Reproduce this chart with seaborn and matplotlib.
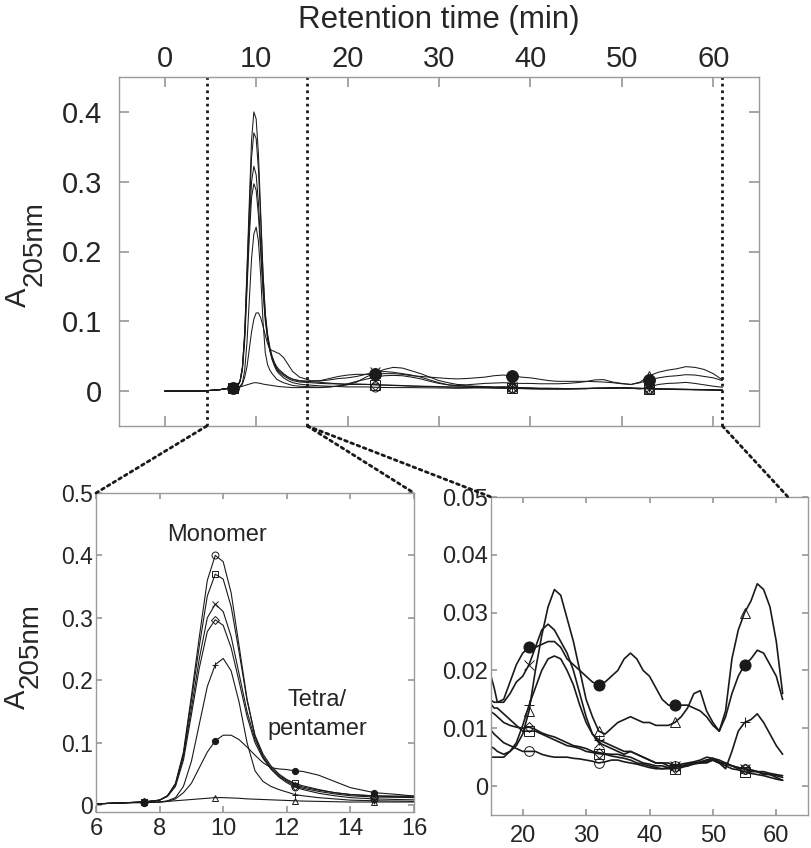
import numpy as np
import pandas as pd
import matplotlib
matplotlib.use('Agg')
import matplotlib.pyplot as plt
import seaborn as sns
from matplotlib.patches import ConnectionPatch

# retention time grid (min): dense around the monomer peak, 1 min steps afterwards
time_min = [0, 2, 4, 6, 6.5, 7, 7.5, 8, 8.25, 8.5, 8.75, 9, 9.25, 9.5, 9.75, 10,
            10.25, 10.5, 10.75, 11, 11.25, 11.5, 11.75, 12, 12.25, 12.5, 13, 13.5, 14, 14.75, 15.5,
            16, 17, 18, 19, 20, 21, 22, 23, 24, 25, 26, 27, 28, 29, 30, 31, 32, 33, 34, 35,
            36, 37, 38, 39, 40, 41, 42, 43, 44, 45, 46, 47, 48, 49, 50, 51, 52, 53, 54, 55,
            56, 57, 58, 59, 60, 61]

# A205nm (early part = monomer window, late part = 16-61 min)
circle_open = [0, 0, 0, 0.002, 0.003, 0.004, 0.005, 0.008, 0.015, 0.035, 0.085, 0.175, 0.27, 0.36, 0.40, 0.39,
               0.34, 0.255, 0.17, 0.11, 0.078, 0.058, 0.045, 0.036, 0.029, 0.025, 0.019, 0.015, 0.012, 0.01, 0.009,
               0.0085, 0.0075, 0.007, 0.0065, 0.006, 0.006, 0.006, 0.0055, 0.0052, 0.005,
               0.005, 0.005, 0.0048, 0.0047, 0.0045, 0.0043, 0.004, 0.0042, 0.0045, 0.0045,
               0.0042, 0.004, 0.0038, 0.0035, 0.0032, 0.003, 0.003, 0.0032, 0.0035, 0.0038,
               0.004, 0.0042, 0.0045, 0.005, 0.0048, 0.0045, 0.004, 0.0035, 0.0032, 0.003,
               0.0028, 0.0025, 0.0022, 0.002, 0.0018, 0.0015]
square_open = [0, 0, 0, 0.002, 0.003, 0.004, 0.005, 0.008, 0.015, 0.034, 0.082, 0.168, 0.255, 0.335, 0.37, 0.362,
               0.318, 0.245, 0.168, 0.112, 0.082, 0.063, 0.05, 0.041, 0.035, 0.031, 0.025, 0.02, 0.017, 0.0145, 0.0135,
               0.0135, 0.0125, 0.0115, 0.0105, 0.0095, 0.0095, 0.0095, 0.009, 0.0085, 0.008,
               0.0075, 0.007, 0.0068, 0.0065, 0.006, 0.0058, 0.0056, 0.0055, 0.0052, 0.005,
               0.0048, 0.0045, 0.004, 0.0038, 0.0035, 0.0032, 0.003, 0.003, 0.003, 0.0032,
               0.0035, 0.0038, 0.004, 0.0042, 0.0045, 0.004, 0.0035, 0.003, 0.0028, 0.0025,
               0.0022, 0.002, 0.0018, 0.0015, 0.0012, 0.001]
cross = [0, 0, 0, 0.002, 0.003, 0.004, 0.005, 0.008, 0.015, 0.033, 0.078, 0.155, 0.235, 0.3, 0.322, 0.31,
         0.27, 0.21, 0.15, 0.105, 0.078, 0.06, 0.048, 0.04, 0.033, 0.029, 0.024, 0.02, 0.017, 0.015, 0.0145,
         0.0145, 0.0145, 0.016, 0.018, 0.019, 0.021, 0.024, 0.027, 0.028, 0.027,
         0.025, 0.023, 0.02, 0.016, 0.012, 0.009, 0.0075, 0.007, 0.0065, 0.006,
         0.0055, 0.006, 0.0055, 0.005, 0.0045, 0.004, 0.004, 0.0035, 0.0035, 0.0035,
         0.0035, 0.004, 0.004, 0.0045, 0.0045, 0.004, 0.004, 0.0035, 0.003, 0.003,
         0.0025, 0.0025, 0.002, 0.002, 0.0015, 0.001]
diamond_open = [0, 0, 0, 0.002, 0.003, 0.004, 0.005, 0.008, 0.014, 0.03, 0.072, 0.145, 0.22, 0.278, 0.297, 0.288,
                0.252, 0.198, 0.142, 0.1, 0.075, 0.058, 0.046, 0.038, 0.031, 0.027, 0.022, 0.018, 0.015, 0.013, 0.0125,
                0.012, 0.011, 0.0105, 0.0102, 0.01, 0.0102, 0.0098, 0.0092, 0.0088, 0.0085,
                0.008, 0.0075, 0.007, 0.0068, 0.0065, 0.006, 0.0058, 0.0056, 0.0055, 0.0055,
                0.0052, 0.005, 0.0045, 0.004, 0.0038, 0.0035, 0.0035, 0.0032, 0.0032, 0.0035,
                0.0038, 0.004, 0.0042, 0.0045, 0.0048, 0.0042, 0.0038, 0.0035, 0.0032, 0.003,
                0.0028, 0.0025, 0.0025, 0.0022, 0.002, 0.0018]
plus = [0, 0, 0, 0.002, 0.003, 0.004, 0.004, 0.005, 0.007, 0.012, 0.03, 0.07, 0.13, 0.19, 0.225, 0.235,
        0.215, 0.165, 0.1, 0.055, 0.038, 0.03, 0.025, 0.021, 0.017, 0.015, 0.012, 0.01, 0.008, 0.007, 0.0065,
        0.006, 0.0055, 0.006, 0.0075, 0.0105, 0.014, 0.017, 0.02, 0.022, 0.0225,
        0.022, 0.02, 0.0175, 0.014, 0.011, 0.009, 0.008, 0.0075, 0.007, 0.0065,
        0.006, 0.006, 0.0055, 0.005, 0.0045, 0.004, 0.004, 0.004, 0.0035, 0.0035,
        0.0035, 0.004, 0.004, 0.004, 0.0045, 0.004, 0.003, 0.006, 0.0095, 0.011,
        0.0115, 0.0125, 0.011, 0.009, 0.007, 0.0055]
circle_filled = [0, 0, 0, 0.002, 0.003, 0.004, 0.004, 0.005, 0.006, 0.01, 0.02, 0.035, 0.06, 0.085, 0.103, 0.112,
                 0.112, 0.105, 0.093, 0.08, 0.068, 0.06, 0.058, 0.057, 0.055, 0.054, 0.048, 0.038, 0.028, 0.02, 0.017,
                 0.0145, 0.015, 0.018, 0.021, 0.023, 0.024, 0.024, 0.0245, 0.025, 0.025,
                 0.024, 0.022, 0.021, 0.02, 0.019, 0.018, 0.0175, 0.018, 0.019, 0.02,
                 0.022, 0.023, 0.022, 0.02, 0.019, 0.017, 0.015, 0.014, 0.014, 0.014,
                 0.014, 0.0135, 0.013, 0.012, 0.0105, 0.0095, 0.012, 0.016, 0.019, 0.021,
                 0.022, 0.0235, 0.023, 0.021, 0.019, 0.015]
triangle_open = [0, 0, 0, 0.002, 0.003, 0.004, 0.005, 0.005, 0.006, 0.007, 0.008, 0.009, 0.01, 0.011, 0.012, 0.012,
                 0.0115, 0.011, 0.01, 0.0095, 0.009, 0.0085, 0.008, 0.0075, 0.007, 0.0065, 0.006, 0.0055, 0.005, 0.005, 0.005,
                 0.005, 0.005, 0.006, 0.007, 0.009, 0.013, 0.02, 0.026, 0.031, 0.034,
                 0.033, 0.029, 0.025, 0.02, 0.015, 0.012, 0.0095, 0.009, 0.01, 0.011,
                 0.0115, 0.012, 0.0115, 0.011, 0.011, 0.0105, 0.0105, 0.0105, 0.011, 0.012,
                 0.0135, 0.016, 0.0165, 0.013, 0.011, 0.0095, 0.013, 0.022, 0.027, 0.03,
                 0.032, 0.035, 0.034, 0.031, 0.025, 0.016]

# where the symbols sit in each panel
marks_top = [7.5, 23, 38, 53]
marks_left = [7.5, 9.75, 12.25, 14.75]
marks_right = [21, 32, 44, 55]

top_xticks = [0, 10, 20, 30, 40, 50, 60]
top_yticks = [0, 0.1, 0.2, 0.3, 0.4]
top_ylabels = ['0', '0.1', '0.2', '0.3', '0.4']
left_xticks = [6, 8, 10, 12, 14, 16]
left_yticks = [0, 0.1, 0.2, 0.3, 0.4, 0.5]
left_ylabels = ['0', '0.1', '0.2', '0.3', '0.4', '0.5']
right_xticks = [20, 30, 40, 50, 60]
right_yticks = [0, 0.01, 0.02, 0.03, 0.04, 0.05]
right_ylabels = ['0', '0.01', '0.02', '0.03', '0.04', '0.05']

# zoom window edges drawn as dotted lines on the top panel
zoom_edges = [4.6, 15.6, 61]

series = [
    ('circle_open', circle_open, 'o', 'none', 1.0),
    ('square_open', square_open, 's', 'none', 1.0),
    ('cross', cross, 'x', 'k', 1.0),
    ('diamond_open', diamond_open, 'D', 'none', 0.75),
    ('plus', plus, '+', 'k', 1.0),
    ('triangle_open', triangle_open, '^', 'none', 1.0),
    ('circle_filled', circle_filled, 'o', 'k', 1.0),
]

sns.set_theme(style='ticks')
plt.rcParams['font.family'] = ['Liberation Sans', 'DejaVu Sans']

W, H = 812, 848
fig = plt.figure(figsize=(W / 100, H / 100), dpi=100)


def px_axes(l, t, r, b):
    return fig.add_axes([l / W, 1 - b / H, (r - l) / W, (b - t) / H])


ax_top = px_axes(119, 77, 759, 426)
ax_l = px_axes(96, 493, 414, 812)
ax_r = px_axes(491, 497, 808, 815)

grey = '#9a9a9a'


def draw(ax, marks, big, small, lw):
    idx = [time_min.index(m) for m in marks]
    for name, vals, mk, fc, scale in series:
        ms = big if name == 'circle_filled' else small * scale
        sns.lineplot(x=time_min, y=vals, ax=ax, color='#1a1a1a', lw=lw,
                     estimator=None, sort=False, legend=False,
                     marker=mk, markevery=idx, ms=ms, mfc=fc,
                     markeredgecolor='k', markeredgewidth=0.7)
    for s in ax.spines.values():
        s.set_color(grey)
        s.set_linewidth(1.0)


draw(ax_top, marks_top, 8.5, 6.5, 0.75)
draw(ax_l, marks_left, 4.5, 5, 0.8)
draw(ax_r, marks_right, 8, 7, 1.2)

# top panel
ax_top.set_xlim(-5, 65)
ax_top.set_ylim(-0.05, 0.45)
ax_top.set_xticks(top_xticks)
ax_top.set_xticklabels([str(v) for v in top_xticks])
ax_top.set_yticks(top_yticks)
ax_top.set_yticklabels(top_ylabels)
ax_top.tick_params(axis='x', top=True, bottom=True, labeltop=True, labelbottom=False,
                   direction='in', length=7, color=grey, labelsize=21, pad=3)
ax_top.tick_params(axis='y', left=True, right=True, direction='in', length=7,
                   color=grey, labelsize=21, pad=12)
ax_top.xaxis.set_label_position('top')
ax_top.set_xlabel('Retention time (min)', fontsize=22.5, labelpad=12)
ax_top.set_ylabel('')
for x in zoom_edges:
    ax_top.axvline(x, color='k', ls=(0, (1, 1.4)), lw=2)

# monomer window
ax_l.set_xlim(6, 16)
ax_l.set_ylim(-0.011, 0.5)
ax_l.set_xticks(left_xticks)
ax_l.set_xticklabels([str(v) for v in left_xticks])
ax_l.set_yticks(left_yticks)
ax_l.set_yticklabels(left_ylabels)
ax_l.tick_params(axis='x', top=True, bottom=True, direction='in', length=4,
                 color=grey, labelsize=17, pad=4)
ax_l.tick_params(axis='y', left=True, right=True, direction='in', length=4,
                 color=grey, labelsize=16.5, pad=2)
ax_l.set_xlabel('')
ax_l.set_ylabel('')
ax_l.text(9.8, 0.433, 'Monomer', ha='center', va='center', fontsize=17)
ax_l.text(12.95, 0.145, 'Tetra/\npentamer', ha='center', va='center', fontsize=17,
          linespacing=1.45)

# late window
ax_r.set_xlim(15, 65)
ax_r.set_ylim(-0.005, 0.05)
ax_r.set_xticks(right_xticks)
ax_r.set_xticklabels([str(v) for v in right_xticks])
ax_r.set_yticks(right_yticks)
ax_r.set_yticklabels(right_ylabels)
ax_r.tick_params(axis='x', top=True, bottom=True, direction='in', length=4,
                 color=grey, labelsize=17, pad=7)
ax_r.tick_params(axis='y', left=True, right=True, direction='in', length=4,
                 color=grey, labelsize=17, pad=2)
ax_r.set_xlabel('')
ax_r.set_ylabel('')

# y labels: "A" with a lowered, nearly full-size "205nm"
for (ax_x, ax_y), (sub_x, sub_y) in [((18, 297), (35, 244)), ((17, 699), (31, 646))]:
    fig.text(ax_x / W, 1 - ax_y / H, 'A', rotation=90, ha='center', va='center', fontsize=21)
    fig.text(sub_x / W, 1 - sub_y / H, '205nm', rotation=90, ha='center', va='center', fontsize=20)

# dotted connectors from the top panel to the zoomed panels
links = [
    (zoom_edges[0], ax_l, (0, 1)),
    (zoom_edges[1], ax_l, (1, 1)),
    (zoom_edges[1], ax_r, (0, 1)),
    (zoom_edges[2], ax_r, (0.937, 1)),
]
for x, axb, xyb in links:
    con = ConnectionPatch(xyA=(x, -0.05), coordsA=ax_top.transData,
                          xyB=xyb, coordsB=axb.transAxes,
                          color='k', ls=(0, (1, 1.4)), lw=2)
    fig.add_artist(con)

fig.savefig('out.png', dpi=100)
